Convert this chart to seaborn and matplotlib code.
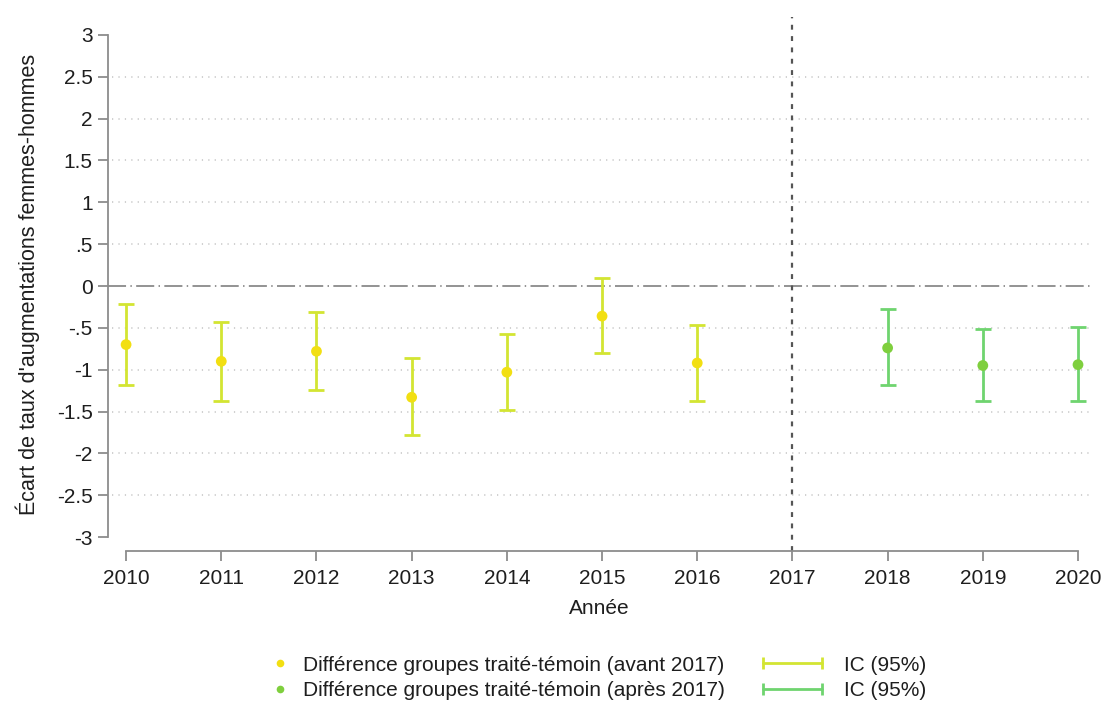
import matplotlib
matplotlib.use('Agg')

import pandas as pd
import seaborn as sns
import matplotlib.pyplot as plt
from matplotlib.lines import Line2D
from matplotlib.legend_handler import HandlerLine2D

# values
years_before = [2010, 2011, 2012, 2013, 2014, 2015, 2016]
est_before = [-0.70, -0.90, -0.78, -1.33, -1.03, -0.36, -0.92]
low_before = [-1.18, -1.37, -1.24, -1.78, -1.48, -0.80, -1.38]
high_before = [-0.21, -0.43, -0.31, -0.86, -0.57, 0.10, -0.47]

years_after = [2018, 2019, 2020]
est_after = [-0.74, -0.95, -0.94]
low_after = [-1.18, -1.38, -1.37]
high_after = [-0.28, -0.51, -0.49]

year_ticks = list(range(2010, 2021))
y_ticks = [3, 2.5, 2, 1.5, 1, 0.5, 0, -0.5, -1, -1.5, -2, -2.5, -3]
y_tick_labels = ["3", "2.5", "2", "1.5", "1", ".5", "0", "-.5", "-1", "-1.5", "-2", "-2.5", "-3"]

label_before = "Différence groupes traité-témoin (avant 2017)"
label_after = "Différence groupes traité-témoin (après 2017)"
label_ci = "IC (95%)"

point_colors = {"avant": "#f2df12", "apres": "#7fcf3e"}
bar_colors = {"avant": "#d3e532", "apres": "#6fd46f"}

df = pd.concat([
    pd.DataFrame({"annee": years_before, "est": est_before, "low": low_before,
                  "high": high_before, "periode": "avant"}),
    pd.DataFrame({"annee": years_after, "est": est_after, "low": low_after,
                  "high": high_after, "periode": "apres"}),
], ignore_index=True)

sns.set_style("white")
plt.rcParams['font.family'] = ['Liberation Sans', 'DejaVu Sans']

W, H = 1104, 711
fig = plt.figure(figsize=(W / 100, H / 100), dpi=100)
ax = fig.add_axes([108 / W, 1 - 551 / H, (1090 - 108) / W, (551 - 17) / H])

# grid lines (dotted), zero line, 2017 line
for v in y_ticks:
    if v in (0, 3, -3):
        continue
    ax.axhline(v, xmin=0.004, color="#c4c4c4", lw=1.1, ls=(0, (0.8, 3.4)), zorder=0)
ax.axhline(0, color="#8a8a8a", lw=1.3, ls=(0, (10, 2.4, 0.8, 2.4)), zorder=1)
ax.axvline(2017, color="#555555", lw=1.6, ls=(0, (2.2, 2.9)), zorder=1)

# confidence intervals
for per, sub in df.groupby("periode"):
    ax.errorbar(sub["annee"], sub["est"],
                yerr=[sub["est"] - sub["low"], sub["high"] - sub["est"]],
                fmt="none", ecolor=bar_colors[per], elinewidth=2, capsize=6,
                capthick=2, zorder=2)

sns.scatterplot(data=df, x="annee", y="est", hue="periode", palette=point_colors,
                s=60, edgecolor="none", legend=False, ax=ax, zorder=3)

ax.set_xlim(2009.81, 2020.126)
ax.set_ylim(-3.167, 3.215)
ax.set_xticks(year_ticks)
ax.set_xticklabels([str(y) for y in year_ticks])
ax.set_yticks(y_ticks)
ax.set_yticklabels(y_tick_labels)

for side in ("top", "right"):
    ax.spines[side].set_visible(False)
ax.spines["left"].set_bounds(-3, 3)
ax.spines["bottom"].set_bounds(2010, 2020)
for side in ("left", "bottom"):
    ax.spines[side].set_color("#8c8c8c")
    ax.spines[side].set_linewidth(1.3)

ax.tick_params(axis="both", which="major", direction="out", length=7, width=1.3,
               color="#8c8c8c", labelsize=15, labelcolor="#1e1e1e", pad=4,
               left=True, bottom=True)
ax.tick_params(axis="x", pad=6)

ax.set_xlabel("Année", fontsize=15, color="#1e1e1e", labelpad=8)
ax.set_ylabel("Écart de taux d'augmentations femmes-hommes", fontsize=15.5, color="#1e1e1e")
ax.yaxis.set_label_coords(-0.069, 0.5)

# legends
h_before = Line2D([], [], ls="none", marker="o", markersize=5.5,
                  markerfacecolor=point_colors["avant"], markeredgecolor="none")
h_after = Line2D([], [], ls="none", marker="o", markersize=5.5,
                 markerfacecolor=point_colors["apres"], markeredgecolor="none")
leg1 = fig.legend([h_before, h_after], [label_before, label_after],
                  loc="center left", bbox_to_anchor=(270 / W, 1 - 678 / H),
                  frameon=False, fontsize=15, handlelength=1.0, handletextpad=0.6,
                  labelspacing=0.32, borderpad=0, borderaxespad=0)
for t in leg1.get_texts():
    t.set_color("#1e1e1e")

ci_before = Line2D([], [], color=bar_colors["avant"], lw=2, marker="|",
                   markersize=8, markeredgewidth=2)
ci_after = Line2D([], [], color=bar_colors["apres"], lw=2, marker="|",
                  markersize=8, markeredgewidth=2)
leg2 = fig.legend([ci_before, ci_after], [label_ci, label_ci],
                  loc="center left", bbox_to_anchor=(757 / W, 1 - 678 / H),
                  frameon=False, fontsize=15, handlelength=3.4, handletextpad=0.8,
                  labelspacing=0.32, borderpad=0, borderaxespad=0,
                  handler_map={ci_before: HandlerLine2D(numpoints=2),
                               ci_after: HandlerLine2D(numpoints=2)})
for t in leg2.get_texts():
    t.set_color("#1e1e1e")

fig.savefig("out.png", dpi=100)
plt.close(fig)
